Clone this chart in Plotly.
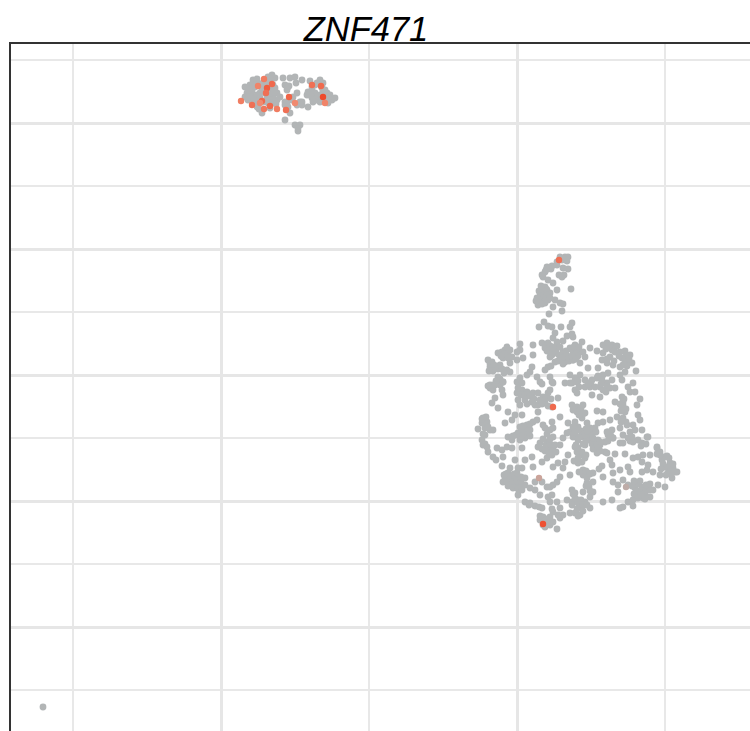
import plotly.graph_objects as go

# embedding coordinates, one pair of lists per region
top_x = [-24.5,-24.2,-23.4,-22.7,-22.2,-21.5,-22.1,-20.7,-19.7,-19.4,-20.2,-19.5,-26.4,-26.7,-27.2,-26.0,-25.7,-26.2,-26.5,-25.0,
         -25.2,-24.4,-24.2,-24.7,-24.0,-24.4,-24.9,-27.0,-27.2,-26.7,-26.4,-26.0,-25.7,-26.9,-26.2,-25.4,-24.7,-24.0,-23.7,-23.2,
         -22.9,-23.0,-22.0,-22.4,-21.5,-22.0,-21.5,-20.9,-23.2,-23.2,-22.9,-22.7,-23.2,-20.9,-21.0,-20.5,-20.2,-20.5,-20.0,-19.7,
         -19.0,-18.7,-18.2,-18.5,-18.9,-19.7,-20.4,-24.7,-25.5,-26.0,-25.2,-22.2,-21.7,-21.9,-21.9,-25.4,-19.7,
         -24.9,-24.7,-26.0,-26.4,-26.8,-25.5,-24.6,-24.3,-24.5,-24.5,-24.9,-26.8,-26.3,-25.7,-24.1,-23.0,-20.5,-20.7,-20.3,-19.9,
         -19.4,-19.3,-18.9,-19.2,-20.0,-22.5,-22.8,-21.7,-25.0,-25.8]
top_y = [30.0,29.7,29.7,29.7,29.8,29.5,29.2,29.4,29.5,29.2,29.0,28.7,29.5,29.0,28.8,29.3,29.0,28.8,28.4,29.3,
         28.8,29.0,28.7,28.5,28.2,27.8,28.0,28.2,27.8,28.0,27.8,28.0,28.2,27.5,27.3,27.3,27.5,27.5,27.8,29.0,
         28.8,28.5,28.2,27.8,27.3,27.0,27.0,26.8,27.3,27.0,26.8,26.2,25.5,28.3,28.0,28.5,28.2,27.7,27.5,27.7,
         28.2,28.0,27.7,27.5,27.2,27.3,27.3,26.7,26.2,26.8,28.2,25.0,25.0,24.7,24.4,29.2,28.0,
         29.8,29.6,29.6,28.9,28.5,28.5,28.8,28.3,27.5,27.2,27.2,27.8,27.5,27.7,27.1,27.2,28.8,28.0,27.5,27.9,
         28.3,27.5,27.7,28.5,29.2,27.5,28.9,27.3,27.7,26.6]

stalk_x = [4.3,4.8,5.1,4.5,5.0,4.0,3.5,3.0,2.8,2.6,3.1,4.6,5.1,4.2,4.7,4.5,3.6,5.4,4.0,2.8,
           2.5,3.0,2.3,2.8,3.3,2.0,2.5,3.1,2.1,2.8,3.8,4.3,4.6,3.6,4.5,3.2,2.2,2.7,3.1,3.5,
           4.4,5.5,5.3,
           2.2,2.6,2.9,2.4,2.7,3.0,2.2,2.5,2.9,1.9,3.3,2.4,3.4,2.9,2.5,4.0,4.6,4.9]
stalk_y = [11.8,11.8,11.8,11.5,11.4,11.3,10.9,10.8,10.3,9.8,9.5,10.7,10.6,10.0,10.0,9.8,9.2,8.6,8.5,8.8,
           8.7,8.5,8.2,8.0,8.2,7.7,7.5,7.5,7.0,7.2,7.5,7.2,7.1,6.8,6.4,6.1,4.8,5.3,4.9,4.8,
           4.8,5.2,4.8,
           8.4,8.3,8.6,7.9,7.8,8.0,7.3,7.1,7.6,7.4,7.7,8.9,10.6,10.5,10.0,11.0,11.6,11.5]

upper_left_x = [3.8,5.0,5.5,4.6,3.6,2.5,3.1,4.0,1.6,1.6,0.3,0.3,0.0,0.6,0.0,-1.2,-1.5,-0.9,-0.5,-1.9,
                -1.4,-0.7,-2.9,-2.5,-2.2,-1.7,-2.7,-1.0,-0.7,-1.9,1.5,1.3,1.0,0.3,0.0,0.5,3.1,2.8,3.3,3.8,
                2.8,3.3,4.0,4.6,5.3,6.0,5.3,4.8,5.6,6.1,2.0,2.3,3.3,3.5,4.8,5.3,6.0,-2.4,-2.7,-1.4,-1.7,
                2.9,3.3,3.6,3.0,3.6,3.9,4.2,3.5,4.3,4.9,5.0,4.5,4.1,5.2,4.6,3.4,
                -1.0,-1.3,-0.7,-1.0,-1.6,-0.9,-2.7,-2.3,-1.9,-1.5,-2.4,-2.8,-1.3,-1.7,-2.1,-2.9,-2.4]
upper_left_y = [4.2,3.9,4.1,3.4,3.7,3.2,3.2,3.3,3.0,2.0,3.1,2.5,2.3,1.7,1.5,2.5,2.3,2.2,1.8,2.2,
                1.7,1.2,1.5,1.3,0.8,1.0,0.8,0.5,0.3,-0.2,0.8,0.3,0.0,-0.3,-0.7,-0.8,0.8,0.5,1.8,1.3,
                2.7,2.3,2.7,2.3,2.7,2.8,1.8,1.3,1.5,2.0,-0.2,-0.7,-0.2,-0.7,-0.8,0.0,-0.7,-1.0,-1.3,-0.7,-1.0,
                2.9,2.9,2.8,2.4,2.4,2.2,2.0,2.0,2.8,2.4,1.9,1.7,1.4,1.4,1.1,0.9,
                2.1,2.1,2.5,2.8,1.9,1.7,1.1,1.0,0.6,0.6,0.4,0.4,0.2,-0.4,-0.6,-1.1,-1.5]

upper_right_x = [5.6,6.5,5.8,5.5,6.0,6.6,7.3,8.0,6.8,6.3,5.6,7.1,8.1,8.6,9.0,9.5,10.0,9.5,8.6,9.3,
                 8.5,10.3,10.8,11.3,10.5,11.0,11.5,9.0,9.6,10.3,11.9,10.8,10.3,6.3,9.1,8.6,8.0,7.5,6.8,7.3,
                 5.8,5.5,5.8,6.0,6.8,9.5,9.0,8.3,7.8,9.8,9.3,8.6,8.3,7.5,10.5,11.6,11.1,11.3,11.8,10.5,
                 10.6,9.8,12.3,12.0,10.5,10.8,12.1,12.3,11.6,8.0,8.6,6.6,6.0,5.5,6.3,6.8,6.5,7.0,5.8,6.1,
                 10.0,9.3,8.6,8.1,10.6,11.0,10.3,9.5,9.0,7.8,7.5,6.8,6.6,7.3,7.8,8.3,6.8,5.6,9.6,8.8,
                 10.6,11.1,11.6,12.5,13.0,11.8,14.0,10.3,9.1,
                 5.7,6.2,6.1,5.5,5.9,9.2,8.9,9.8,10.2,9.0,9.7,10.9,10.8,11.2,11.0,10.6,8.1,8.5,8.4,9.0,
                 8.9,7.4,7.1,6.1,6.2,6.4,6.0,6.6,6.2,5.6,10.6,10.3,10.7,10.9,10.4,7.9,7.3,6.9,6.4,6.2,
                 7.0,7.5,6.9,8.0,7.6,11.3,10.9,10.4]
upper_right_y = [3.8,3.3,3.0,2.5,2.3,2.3,2.7,2.4,1.8,1.2,1.5,0.7,0.7,3.0,3.2,3.0,2.9,2.5,2.2,1.8,
                 1.5,2.3,2.4,2.0,1.7,1.3,1.2,1.2,1.0,0.8,0.4,0.3,0.0,0.0,0.2,0.0,-0.3,-0.5,-0.5,-1.2,
                 -0.3,-0.8,-1.5,-1.8,-1.2,-0.5,-0.8,-1.2,-1.2,-1.3,-1.3,-1.5,-2.2,-2.0,-0.5,-0.8,-1.2,-1.7,-1.7,-2.2,
                 -2.7,-2.7,-2.4,-3.0,-3.2,-3.7,-4.0,-4.5,-5.0,-3.6,-3.7,-3.0,-3.2,-3.0,-3.5,-3.8,-4.3,-4.8,-4.7,-5.2,
                 -4.2,-4.5,-4.7,-4.8,-4.3,-5.0,-5.3,-5.5,-5.7,-5.3,-5.8,-5.8,-6.2,-6.5,-6.8,-7.0,-7.0,-6.2,-6.3,-6.7,
                 -6.0,-6.3,-6.7,-5.5,-6.2,-5.5,-7.2,-6.8,-6.0,
                 2.8,2.8,1.9,1.9,1.6,2.9,2.6,2.3,1.9,1.6,1.4,1.9,1.5,1.6,0.9,1.0,-0.1,-0.5,-0.9,-1.2,
                 -1.7,-0.7,-0.9,-0.6,-1.2,-3.3,-3.7,-3.9,-4.0,-3.5,-3.0,-2.9,-2.4,-3.4,-3.6,-5.7,-5.3,-5.4,-5.6,-6.2,
                 -6.4,-6.9,-6.6,-7.3,-7.4,-6.6,-4.7,-4.7]

lower_left_x = [-2.7,-2.2,-1.4,-1.5,-1.4,-2.2,-2.5,-1.9,-3.4,-3.5,-3.0,-3.9,-3.2,-2.7,-2.4,-3.2,-3.5,-3.4,-2.9,-2.4,
                -2.1,-0.9,-1.2,-0.5,-0.2,0.0,0.5,1.0,1.6,2.1,2.6,3.1,0.1,0.8,1.5,2.1,2.8,3.5,4.1,0.5,
                2.1,5.3,3.6,2.5,3.3,0.3,1.0,1.6,2.0,0.1,0.8,1.3,-0.9,-0.5,0.3,0.8,3.5,3.6,2.8,4.3,
                5.1,5.3,5.0,5.6,6.1,2.3,3.0,3.6,4.6,2.1,3.1,3.6,4.3,-2.0,-1.5,-1.0,-0.5,0.5,3.5,3.0,
                5.1,4.8,-1.4,-0.2,0.8,1.5,0.5,1.6,2.5,3.6,4.1,4.6,-1.5,-0.7,0.1,5.3,-0.9,-1.2,-0.5,0.1,
                0.8,-1.4,-0.7,-0.2,0.3,0.8,1.3,1.8,2.5,3.0,3.3,4.3,4.0,3.6,1.8,2.3,0.1,3.5,3.1,0.8,
                1.3,1.8,2.5,3.3,4.0,5.0,5.5,6.1,3.6,4.3,4.6,5.3,2.6,2.3,3.1,3.6,4.0,2.8,4.3,3.3,
                -1.1,-0.7,-0.3,-0.2,-1.0,-0.4,0.0,0.4,-1.3,-0.9,-0.4,0.1,0.5,0.4,0.0,
                0.4,0.8,1.3,1.0,1.7,2.3,2.5,2.9,3.4,1.8,3.1,0.3,0.1,
                0.5,1.0,0.9,0.4,-0.1,-0.4,1.3,0.6,1.3,
                2.6,2.9,3.3,2.5,2.8,3.2,3.9,3.8,3.3,3.0,3.3,2.6,
                -3.5,-3.1,-2.9,-3.4,-3.2,-3.0,
                2.9,2.6,3.0,2.3,3.3,2.6,4.1,3.5,1.2,2.2]
lower_left_y = [-1.0,-1.0,-0.7,-1.5,-2.0,-2.3,-2.8,-3.3,-4.3,-4.8,-4.7,-5.4,-5.3,-5.5,-5.5,-6.0,-6.5,-7.0,-7.7,-8.2,
                -8.5,-3.7,-4.8,-4.5,-4.0,-1.8,-1.5,-1.7,-1.8,-1.8,-2.2,-1.8,-2.5,-2.5,-2.7,-3.0,-2.8,-3.2,-2.3,-4.0,
                -3.7,-0.8,-0.8,-0.9,-1.5,-5.2,-5.0,-4.7,-4.5,-5.8,-5.8,-5.5,-6.2,-6.5,-6.5,-6.3,-4.7,-5.3,-5.3,-4.2,
                -4.8,-5.7,-5.8,-5.2,-5.5,-6.8,-6.7,-6.2,-6.3,-7.2,-7.3,-7.5,-7.0,-7.3,-7.5,-7.2,-7.3,-7.3,-8.0,-8.3,
                -8.0,-8.7,-8.2,-8.5,-8.5,-8.2,-9.3,-9.2,-8.7,-9.2,-8.8,-9.3,-9.1,-9.3,-9.3,-10.0,-9.8,-10.3,-10.3,-10.2,
                -10.3,-10.7,-11.0,-10.8,-11.2,-11.0,-11.3,-10.7,-10.7,-11.2,-11.2,-10.2,-10.7,-11.0,-11.5,-12.0,-12.0,-12.0,-12.2,-12.7,
                -12.8,-13.1,-13.3,-12.7,-12.7,-12.5,-12.7,-12.5,-13.7,-13.3,-14.0,-13.8,-14.2,-14.5,-14.5,-14.7,-15.4,-15.2,-14.3,-15.0,
                -9.9,-10.2,-9.9,-10.4,-10.7,-10.7,-10.6,-10.6,-10.0,-11.1,-11.3,-11.4,-11.5,-10.2,-9.8,
                -2.0,-2.0,-2.1,-2.9,-2.4,-2.5,-2.9,-2.3,-2.4,-3.0,-3.1,-3.0,-1.3,
                -5.6,-5.5,-6.0,-6.1,-6.0,-6.1,-6.1,-5.1,-4.9,
                -6.4,-7.0,-6.9,-7.4,-7.6,-7.9,-7.7,-7.0,-6.4,-5.9,-5.5,-5.0,
                -4.4,-4.2,-5.2,-5.9,-6.9,-7.2,
                -14.4,-14.6,-14.9,-14.1,-14.2,-15.0,-14.0,-13.4,-13.0,-13.2]

lower_right_x = [5.8,6.8,7.3,7.6,8.1,9.1,9.6,6.6,8.0,8.3,5.8,6.0,6.5,6.8,6.5,6.1,8.0,8.8,9.0,9.8,
                 10.8,9.3,9.5,8.5,8.2,6.6,7.1,7.6,6.6,7.6,8.6,9.6,10.3,11.1,11.3,11.6,12.1,12.6,13.3,12.5,
                 13.1,13.0,13.6,12.5,14.0,14.3,15.0,14.5,15.3,14.8,16.0,15.6,15.1,15.5,14.3,14.8,14.1,13.6,9.6,10.1,
                 10.6,11.1,10.1,12.1,11.8,12.5,13.0,12.3,12.8,12.1,13.3,11.6,11.1,10.3,10.6,11.6,8.6,9.5,7.6,7.3,
                 6.6,5.8,5.5,5.8,6.8,7.3,6.3,5.8,6.3,5.5,7.0,12.5,13.1,12.1,10.6,11.3,
                 11.9,12.3,12.5,12.0,11.7,12.0,12.6,12.9,13.3,12.9,13.3,11.7,11.5,12.4,12.8,
                 14.7,15.2,14.6,15.0,15.4,15.8,15.4,14.9,14.4,15.6,14.0,14.3,
                 6.5,6.1,6.9,6.1,5.7,6.2,6.9,7.3,7.0,6.9,7.2,7.3,6.4,6.1,6.6,6.0,6.6,7.0,6.1,5.6,
                 5.9,6.1,7.0,8.1,8.3,9.1,9.4,12.9,11.5,12.4]
lower_right_y = [-5.7,-6.0,-6.0,-6.3,-6.5,-5.7,-6.3,-6.9,-7.0,-6.7,-7.2,-7.7,-8.0,-8.3,-8.7,-8.8,-7.8,-7.7,-7.8,-7.9,
                 -7.9,-8.5,-9.0,-9.1,-9.4,-9.5,-9.8,-9.8,-10.0,-10.7,-10.2,-9.8,-9.5,-9.2,-9.7,-8.3,-8.2,-8.0,-8.0,-8.7,
                 -9.0,-9.5,-9.7,-9.7,-7.3,-7.7,-8.1,-8.5,-8.8,-9.2,-9.7,-9.3,-9.8,-10.3,-10.0,-11.2,-11.0,-11.5,-10.7,-11.0,
                 -10.5,-11.0,-11.7,-10.8,-11.3,-11.2,-11.3,-11.8,-12.0,-12.3,-12.2,-12.5,-12.7,-13.3,-13.2,-13.1,-12.7,-12.5,-11.7,-12.2,
                 -11.7,-11.8,-11.5,-12.3,-12.7,-13.3,-13.3,-13.8,-14.0,-13.0,-10.8,-6.8,-6.2,-6.5,-6.8,-5.7,
                 -11.0,-10.6,-11.6,-11.6,-11.9,-12.0,-12.3,-11.6,-11.5,-11.0,-10.9,-10.6,-11.1,-12.0,-12.4,
                 -8.2,-8.3,-8.9,-9.2,-9.5,-9.7,-9.9,-10.0,-9.4,-8.9,-7.9,-8.0,
                 -7.7,-7.3,-8.0,-8.3,-8.6,-9.7,-9.6,-9.9,-10.3,-11.1,-11.2,-11.6,-12.5,-12.8,-13.0,-13.4,-13.6,-13.0,-14.1,-11.9,
                 -7.0,-6.5,-5.6,-7.3,-7.6,-6.6,-6.1,-6.9,-6.2,-7.1]

outlier_x = [-47.4]
outlier_y = [-33.2]

# cells with ZNF471 detected
expr_x = [-25.3,-24.5,-25.0,-25.1,-25.9,-27.6,-26.5,-25.5,-25.7,-24.7,-25.3,-24.0,-22.8,-23.1,-22.2,-20.5,-19.6,-19.4,-19.2,
          4.2,3.6,2.6,2.2,10.9]
expr_y = [29.6,29.1,28.7,28.2,28.9,27.4,27.0,27.4,27.2,26.9,26.6,26.6,27.8,26.5,27.2,29.0,28.9,27.8,27.2,
          11.5,-3.2,-14.9,-10.3,-11.2]
expr_val = [0.6,0.75,0.85,0.7,0.55,0.6,0.7,0.75,0.5,0.75,0.65,0.6,0.8,0.7,0.5,0.7,0.75,1.0,0.55,
            0.7,0.75,0.95,0.2,0.1]

gray_x = top_x + stalk_x + upper_left_x + upper_right_x + lower_left_x + lower_right_x + outlier_x
gray_y = top_y + stalk_y + upper_left_y + upper_right_y + lower_left_y + lower_right_y + outlier_y

fig = go.Figure()
fig.add_trace(go.Scatter(x=gray_x, y=gray_y, mode="markers",
                         marker=dict(size=6.8, color="#b2b5b6"), hoverinfo="skip"))
fig.add_trace(go.Scatter(x=expr_x, y=expr_y, mode="markers", hoverinfo="skip",
                         marker=dict(size=6.4, color=expr_val, cmin=0, cmax=1,
                                     colorscale=[[0, "#b2b5b6"], [0.5, "#f08a70"], [1, "#ee4a2c"]],
                                     showscale=False)))

fig.update_layout(
    width=750, height=731,
    margin=dict(l=11, r=0, t=44, b=0),
    paper_bgcolor="white", plot_bgcolor="white",
    showlegend=False,
    title=dict(text="ZNF471", x=366/750, xanchor="center", y=1-29/731, yanchor="middle",
               font=dict(family="Liberation Sans", size=34.5, color="black", style="italic")),
)
fig.update_xaxes(range=[-50.6, 23.3], side="top", showline=True, linecolor="#333333", linewidth=2,
                 showticklabels=False, ticks="", zeroline=False,
                 tick0=0, dtick=29.6, gridcolor="#e6e6e6", gridwidth=3,
                 minor=dict(tick0=0, dtick=14.8, showgrid=True, gridcolor="#e8e8e8", gridwidth=1.5))
fig.update_yaxes(range=[-35.6, 33.1], showline=True, linecolor="#333333", linewidth=2,
                 showticklabels=False, ticks="", zeroline=False,
                 tick0=0, dtick=12.6, gridcolor="#e6e6e6", gridwidth=3,
                 minor=dict(tick0=0, dtick=6.3, showgrid=True, gridcolor="#e8e8e8", gridwidth=1.5))

fig.write_html("out.html", config=dict(displayModeBar=False),
               post_script="document.body.style.margin='0';document.body.style.overflow='hidden';")
